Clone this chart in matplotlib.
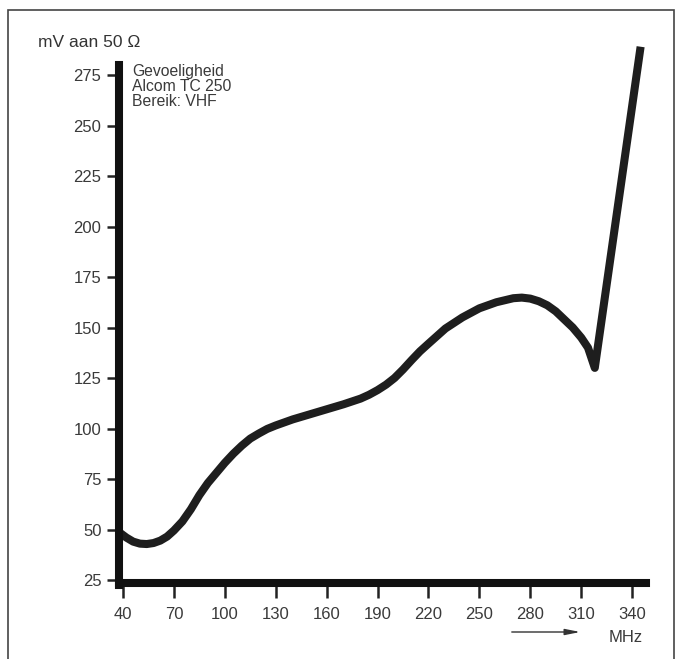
import matplotlib.pyplot as plt
from matplotlib.patches import Rectangle

plt.rcParams['font.family'] = ['Liberation Sans', 'DejaVu Sans']

# gevoeligheid Alcom TC 250, bereik VHF
mhz = [38, 42, 46, 50, 54, 58, 62, 66, 70, 75, 80, 85, 90, 95, 100, 105, 110, 115, 120, 125, 130,
       140, 150, 160, 170, 180, 185, 190, 195, 200, 205, 210, 215, 220, 230, 240, 250, 260, 270, 275,
       280, 285, 290, 295, 300, 305, 310, 314, 318, 345]
mv = [48.5, 46, 44, 43, 42.8, 43.3, 44.5, 46.5, 49.5, 54, 60, 67, 73, 78, 83, 87.5, 91.5, 95, 97.5, 99.8, 101.5,
      104.5, 107, 109.5, 112, 114.8, 116.7, 119, 121.7, 125, 129.2, 133.8, 138.2, 142, 149.5, 155, 159.5, 162.5,
      164.5, 164.8, 164.3, 163, 161, 158, 154, 150, 145, 140, 130, 289]

x_ticks = [40, 70, 100, 130, 160, 190, 220, 250, 280, 310, 340]
y_ticks = [25, 50, 75, 100, 125, 150, 175, 200, 225, 250, 275]

W, H = 683, 659
fig = plt.figure(figsize=(W / 100, H / 100), dpi=100)
fig.patch.set_facecolor('white')

# axes box in pixels: x 30..350 -> 106..649, y 15..295 -> 600..35 (from top)
ax = fig.add_axes([106 / W, (H - 600.2) / H, 543.1 / W, 565.6 / H])
ax.set_xlim(30, 350)
ax.set_ylim(15, 295)
ax.patch.set_alpha(0)

ax.plot(mhz, mv, color='#1e1e1e', lw=5.8, solid_capstyle='butt', solid_joinstyle='round',
        clip_on=False, zorder=3)

# thick axis bars
for s in ['top', 'right']:
    ax.spines[s].set_visible(False)
ax.spines['left'].set_position(('data', 37.6))
ax.spines['left'].set_bounds(22.5, 280)
ax.spines['bottom'].set_position(('data', 23.3))
ax.spines['bottom'].set_bounds(37.6, 348.2)
for s in ['left', 'bottom']:
    ax.spines[s].set_linewidth(5.8)
    ax.spines[s].set_color('#111111')
    ax.spines[s].set_capstyle('projecting')
    ax.spines[s].set_zorder(4)

ax.set_xticks(x_ticks)
ax.set_yticks(y_ticks)
ax.tick_params(axis='y', direction='out', length=8.6, width=1.8, pad=4, labelsize=12,
               labelcolor='#3a3a3a', color='#222222')
ax.tick_params(axis='x', direction='out', length=10.8, width=1.8, pad=6, labelsize=12,
               labelcolor='#3a3a3a', color='#222222')

# texts
fig.text(38 / W, 1 - 47 / H, 'mV aan 50 \u03a9', fontsize=12.5, color='#333333', va='baseline')
for i, line in enumerate(['Gevoeligheid', 'Alcom TC 250', 'Bereik: VHF']):
    fig.text(132 / W, 1 - (76 + 15 * i) / H, line, fontsize=11.3, color='#3a3a3a', va='baseline')
fig.text(609 / W, 1 - 642 / H, 'MHz', fontsize=12, color='#3a3a3a', va='baseline')
ax.annotate('', xy=(583 / W, 1 - 632 / H), xytext=(509 / W, 1 - 632 / H),
            xycoords='figure fraction', textcoords='figure fraction',
            arrowprops=dict(arrowstyle='-|>,head_length=0.9,head_width=0.18', lw=1, color='#333333'))

# outer frame
fig.add_artist(Rectangle((8 / W, -0.05), 666 / W, 1.05 - 10 / H, transform=fig.transFigure,
                         fill=False, lw=1.2, edgecolor='#444444'))

fig.savefig('out.png', dpi=100)
